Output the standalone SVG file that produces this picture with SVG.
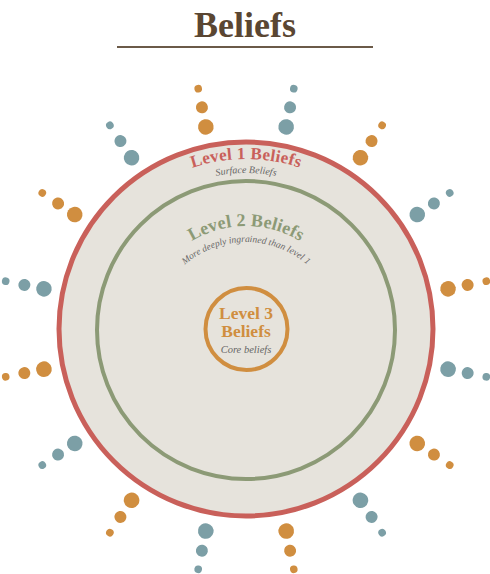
<svg xmlns="http://www.w3.org/2000/svg" xmlns:xlink="http://www.w3.org/1999/xlink" width="490" height="574" viewBox="0 0 490 574">
<style>
.title{font-family:"Liberation Serif",serif;font-weight:bold;font-size:36px;fill:#5a4632}
.lbl{font-family:"Liberation Serif",serif;font-weight:bold}
.sub{font-family:"Liberation Serif",serif;font-style:italic;fill:#666}
.teal{fill:#7c9fa6}
.orange{fill:#d08e40}
</style>
<defs>
<path id="arc1" d="M76,329 A170,170 0 0 1 416,329"/>
<path id="arc1s" d="M90,329 A156,156 0 0 1 402,329"/>
<path id="arc2" d="M142,330 A104,104 0 0 1 350,330"/>
<path id="arc2s" d="M152,336 A94,94 0 0 1 340,336"/>
<g id="rayT"><circle cx="246" cy="123" r="7.8"/><circle cx="246" cy="103" r="6"/><circle cx="246" cy="84" r="3.8"/></g>
</defs>
<rect width="490" height="574" fill="#ffffff"/>
<g id="title">
<text class="title" x="245" y="37" text-anchor="middle">Beliefs</text>
<line x1="117" y1="47" x2="373" y2="47" stroke="#6b5a48" stroke-width="2"/>
</g>
<g id="dots">
<use href="#rayT" class="teal" transform="rotate(11.25 246 329)"/>
<use href="#rayT" class="orange" transform="rotate(33.75 246 329)"/>
<use href="#rayT" class="teal" transform="rotate(56.25 246 329)"/>
<use href="#rayT" class="orange" transform="rotate(78.75 246 329)"/>
<use href="#rayT" class="teal" transform="rotate(101.25 246 329)"/>
<use href="#rayT" class="orange" transform="rotate(123.75 246 329)"/>
<use href="#rayT" class="teal" transform="rotate(146.25 246 329)"/>
<use href="#rayT" class="orange" transform="rotate(168.75 246 329)"/>
<use href="#rayT" class="teal" transform="rotate(191.25 246 329)"/>
<use href="#rayT" class="orange" transform="rotate(213.75 246 329)"/>
<use href="#rayT" class="teal" transform="rotate(236.25 246 329)"/>
<use href="#rayT" class="orange" transform="rotate(258.75 246 329)"/>
<use href="#rayT" class="teal" transform="rotate(281.25 246 329)"/>
<use href="#rayT" class="orange" transform="rotate(303.75 246 329)"/>
<use href="#rayT" class="teal" transform="rotate(326.25 246 329)"/>
<use href="#rayT" class="orange" transform="rotate(348.75 246 329)"/>
</g>
<g id="level1">
<circle cx="246" cy="329" r="187" fill="#e6e3dc" stroke="#c9605a" stroke-width="5"/>
<text class="lbl" font-size="17" fill="#c9605a" letter-spacing="0.3"><textPath href="#arc1" startOffset="50%" text-anchor="middle">Level 1 Beliefs</textPath></text>
<text class="sub" font-size="10"><textPath href="#arc1s" startOffset="50%" text-anchor="middle">Surface Beliefs</textPath></text>
</g>
<g id="level2">
<circle cx="246" cy="330" r="149" fill="none" stroke="#8c9a76" stroke-width="4"/>
<text class="lbl" font-size="18" fill="#8c9a76" letter-spacing="0.2"><textPath href="#arc2" startOffset="50%" text-anchor="middle">Level 2 Beliefs</textPath></text>
<text class="sub" font-size="9.5"><textPath href="#arc2s" startOffset="50%" text-anchor="middle">More deeply ingrained than level 1</textPath></text>
</g>
<g id="level3">
<circle cx="246.5" cy="329" r="41" fill="none" stroke="#d08e40" stroke-width="4"/>
<text class="lbl" font-size="17.5" fill="#d08e40" x="246" y="319" text-anchor="middle">Level 3</text>
<text class="lbl" font-size="17.5" fill="#d08e40" x="246" y="337" text-anchor="middle">Beliefs</text>
<text class="sub" font-size="10.5" x="246" y="353" text-anchor="middle">Core beliefs</text>
</g>
</svg>
